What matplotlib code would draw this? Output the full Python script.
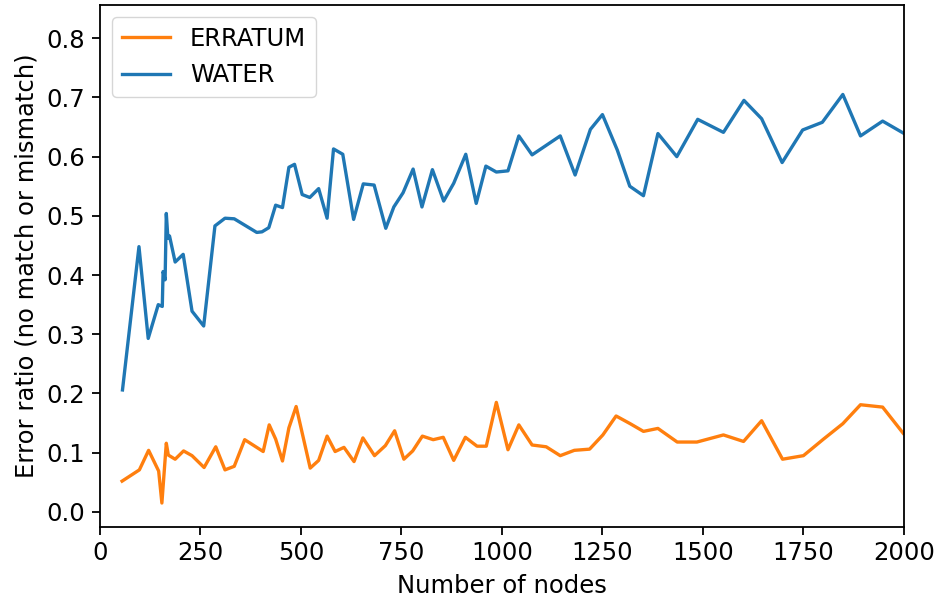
import matplotlib
matplotlib.use("Agg")
import matplotlib.pyplot as plt

# WATER series (nodes, error ratio)
water_nodes = [56, 97, 120, 145, 155, 157, 162, 165, 169, 173, 187, 207, 229, 258,
               286, 311, 334, 390, 403, 420, 437, 454, 470, 484, 503, 522, 544, 565,
               581, 604, 631, 655, 682, 711, 731, 754, 779, 801, 827, 855, 880, 910,
               936, 960, 986, 1015, 1042, 1075, 1145, 1182, 1220, 1250, 1287, 1318,
               1352, 1388, 1435, 1487, 1551, 1602, 1646, 1697, 1748, 1797, 1848,
               1892, 1947, 1998]
water_ratio = [0.206, 0.448, 0.293, 0.350, 0.347, 0.406, 0.392, 0.504, 0.462, 0.466,
               0.422, 0.435, 0.339, 0.314, 0.483, 0.496, 0.495, 0.472, 0.473, 0.480,
               0.518, 0.514, 0.582, 0.587, 0.536, 0.531, 0.546, 0.496, 0.613, 0.604,
               0.494, 0.554, 0.552, 0.479, 0.515, 0.539, 0.579, 0.515, 0.578, 0.525,
               0.555, 0.604, 0.521, 0.584, 0.574, 0.576, 0.635, 0.603, 0.635, 0.569,
               0.646, 0.671, 0.611, 0.550, 0.534, 0.639, 0.600, 0.663, 0.641, 0.695,
               0.664, 0.590, 0.645, 0.658, 0.705, 0.635, 0.660, 0.640]

# ERRATUM series (nodes, error ratio)
erratum_nodes = [55, 98, 121, 146, 154, 165, 170, 187, 208, 229, 259, 288, 311, 334,
                 360, 406, 421, 437, 454, 470, 488, 523, 544, 565, 585, 607, 632, 654,
                 683, 710, 733, 756, 778, 802, 829, 854, 880, 909, 938, 961, 986, 1015,
                 1042, 1075, 1110, 1145, 1180, 1218, 1251, 1284, 1319, 1352, 1388,
                 1436, 1485, 1551, 1601, 1646, 1698, 1750, 1800, 1848, 1892, 1947, 1998]
erratum_ratio = [0.052, 0.071, 0.104, 0.069, 0.015, 0.116, 0.096, 0.089, 0.103, 0.095,
                 0.075, 0.110, 0.071, 0.077, 0.122, 0.102, 0.147, 0.123, 0.086, 0.142,
                 0.178, 0.074, 0.087, 0.128, 0.102, 0.109, 0.085, 0.125, 0.095, 0.112,
                 0.137, 0.089, 0.103, 0.128, 0.122, 0.126, 0.087, 0.126, 0.111, 0.111,
                 0.185, 0.105, 0.147, 0.113, 0.110, 0.095, 0.104, 0.106, 0.130, 0.162,
                 0.149, 0.136, 0.141, 0.118, 0.118, 0.130, 0.119, 0.154, 0.089, 0.095,
                 0.123, 0.149, 0.181, 0.177, 0.133]

plt.rcParams['font.size'] = 17.5

fig = plt.figure(figsize=(9.37, 6.01), dpi=100)
ax = fig.add_axes([0.1067, 0.1236, 0.858, 0.868])

ax.plot(erratum_nodes, erratum_ratio, color='#ff7f0e', lw=2.4, label='ERRATUM')
ax.plot(water_nodes, water_ratio, color='#1f77b4', lw=2.4, label='WATER')

ax.set_xlim(0, 2000)
ax.set_ylim(-0.025, 0.856)
ax.set_xticks([0, 250, 500, 750, 1000, 1250, 1500, 1750, 2000])
ax.set_yticks([0.0, 0.1, 0.2, 0.3, 0.4, 0.5, 0.6, 0.7, 0.8])
ax.tick_params(width=1.3, length=5.5, pad=5)
for s in ax.spines.values():
    s.set_linewidth(1.3)

ax.set_xlabel('Number of nodes', labelpad=6)
ax.set_ylabel('Error ratio (no match or mismatch)', labelpad=6)
ax.legend(loc='upper left')

fig.savefig('out.png', dpi=100)
